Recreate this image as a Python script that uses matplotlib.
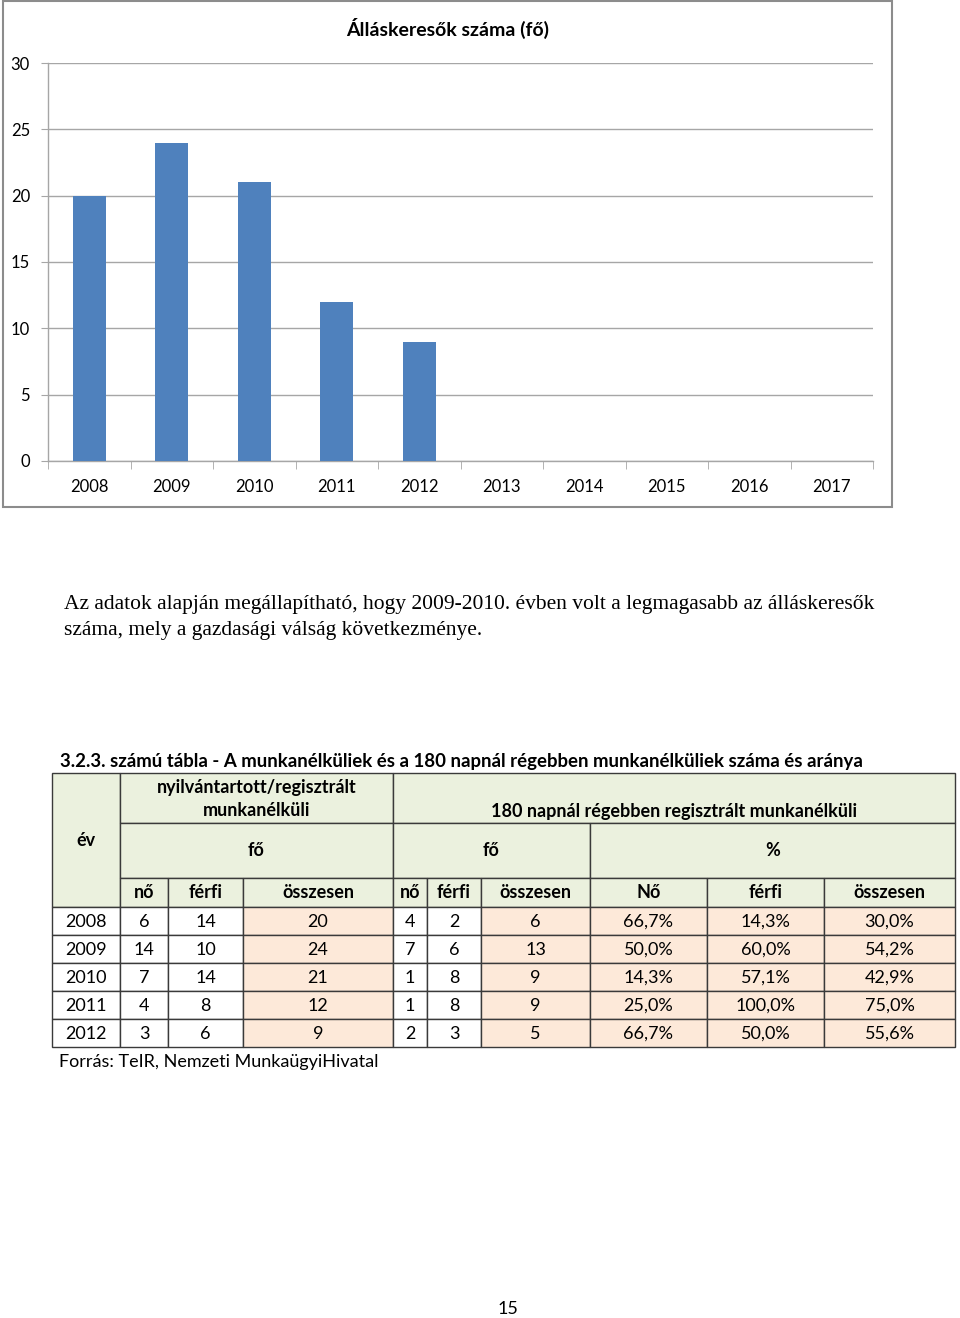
import matplotlib
matplotlib.use("Agg")
import matplotlib.pyplot as plt
from matplotlib.patches import Rectangle

# ---- chart data ----
YEARS = ["2008", "2009", "2010", "2011", "2012", "2013", "2014", "2015", "2016", "2017"]
JOBSEEKERS = [20, 24, 21, 12, 9]

# ---- table data ----
T_YEARS = ["2008", "2009", "2010", "2011", "2012"]
NO = [6, 14, 7, 4, 3]
FERFI = [14, 10, 14, 8, 6]
OSSZ = [20, 24, 21, 12, 9]
NO180 = [4, 7, 1, 1, 2]
FERFI180 = [2, 6, 8, 8, 3]
OSSZ180 = [6, 13, 9, 9, 5]
PCT_NO = [66.7, 50.0, 14.3, 25.0, 66.7]
PCT_FERFI = [14.3, 60.0, 57.1, 100.0, 50.0]
PCT_OSSZ = [30.0, 54.2, 42.9, 75.0, 55.6]

SANS = ["Lato", "DejaVu Sans"]
SERIF = ["Liberation Serif", "DejaVu Serif"]
BLUE = "#4F81BD"
GRID = "#A6A6A6"
GREEN = "#EBF1DE"
PEACH = "#FDE9D9"
LINE = "#3A3A3A"

W, H = 960, 1318
fig = plt.figure(figsize=(W / 100, H / 100), dpi=100)

# overlay in pixel coordinates for the page elements
page = fig.add_axes([0, 0, 1, 1])
page.set_xlim(0, W)
page.set_ylim(H, 0)
page.axis("off")

# chart frame
page.add_patch(Rectangle((3, 1), 889, 506, fill=False, edgecolor="#8C8C8C", lw=1.5))
page.text(448, 28, "Álláskeresők száma (fő)", ha="center", va="center",
          fontsize=14, fontweight="bold", family=SANS)

# ---- bar chart ----
ax = fig.add_axes([48 / W, 1 - 461 / H, (873 - 48) / W, (461 - 63) / H])
x = list(range(len(JOBSEEKERS)))
ax.bar(x, JOBSEEKERS, width=0.4, color=BLUE, zorder=3)
ax.set_xlim(-0.5, len(YEARS) - 0.5)
ax.set_ylim(0, 30)
ax.set_yticks(range(0, 31, 5))
ax.set_xticks(range(len(YEARS)))
ax.set_xticklabels(YEARS)
ax.set_xticks([i - 0.5 for i in range(len(YEARS) + 1)], minor=True)
ax.tick_params(axis="x", which="major", length=0, pad=13, labelsize=12)
ax.tick_params(axis="x", which="minor", length=6, color=GRID, direction="out")
ax.tick_params(axis="y", length=5, color=GRID, pad=8, labelsize=12)
for lbl in ax.get_xticklabels() + ax.get_yticklabels():
    lbl.set_family(SANS)
ax.grid(axis="y", color=GRID, lw=1, zorder=0)
for s in ["top", "right"]:
    ax.spines[s].set_visible(False)
for s in ["left", "bottom"]:
    ax.spines[s].set_color(GRID)
    ax.spines[s].set_linewidth(1)
ax.set_facecolor("none")

# ---- body text ----
page.text(64, 604, "Az adatok alapján megállapítható, hogy 2009-2010. évben volt a legmagasabb az álláskeresők",
          ha="left", va="center", fontsize=15.5, family=SERIF)
page.text(64, 630, "száma, mely a gazdasági válság következménye.",
          ha="left", va="center", fontsize=15.5, family=SERIF)

page.text(60, 761, "3.2.3. számú tábla - A munkanélküliek és a 180 napnál régebben munkanélküliek száma és aránya",
          ha="left", va="center", fontsize=13.4, fontweight="bold", family=SANS)

# ---- table ----
cols = [52, 120, 168, 243, 393, 427, 481, 590, 707, 824, 955]
r_top, r1, r2, r3 = 773, 823, 878, 907
row_h = 28


def cell(x0, y0, x1, y1, fc):
    page.add_patch(Rectangle((x0, y0), x1 - x0, y1 - y0, facecolor=fc,
                             edgecolor=LINE, lw=1))


fs = 13
# header
cell(cols[0], r_top, cols[1], r3, GREEN)
page.text((cols[0] + cols[1]) / 2, 840, "év", ha="center", va="center",
          fontsize=fs, fontweight="bold", family=SANS)
cell(cols[1], r_top, cols[4], r1, GREEN)
page.text((cols[1] + cols[4]) / 2, 787, "nyilvántartott/regisztrált",
          ha="center", va="center", fontsize=fs, fontweight="bold", family=SANS)
page.text((cols[1] + cols[4]) / 2, 811, "munkanélküli",
          ha="center", va="center", fontsize=fs, fontweight="bold", family=SANS)
cell(cols[4], r_top, cols[10], r1, GREEN)
page.text((cols[4] + cols[10]) / 2, 811, "180 napnál régebben regisztrált munkanélküli",
          ha="center", va="center", fontsize=fs, fontweight="bold", family=SANS)
for a, b, t in [(1, 4, "fő"), (4, 7, "fő"), (7, 10, "%")]:
    cell(cols[a], r1, cols[b], r2, GREEN)
    page.text((cols[a] + cols[b]) / 2, 851, t, ha="center", va="center",
              fontsize=fs, fontweight="bold", family=SANS)
sub = ["nő", "férfi", "összesen", "nő", "férfi", "összesen", "Nő", "férfi", "összesen"]
for i, t in enumerate(sub):
    cell(cols[i + 1], r2, cols[i + 2], r3, GREEN)
    page.text((cols[i + 1] + cols[i + 2]) / 2, 893, t, ha="center", va="center",
              fontsize=fs, fontweight="bold", family=SANS)


def pct(v):
    return f"{v:.1f}%".replace(".", ",")


fills = ["white", "white", "white", PEACH, "white", "white", PEACH, PEACH, PEACH, PEACH]
for r in range(len(T_YEARS)):
    y0 = r3 + r * row_h
    vals = [T_YEARS[r], str(NO[r]), str(FERFI[r]), str(OSSZ[r]), str(NO180[r]),
            str(FERFI180[r]), str(OSSZ180[r]), pct(PCT_NO[r]), pct(PCT_FERFI[r]),
            pct(PCT_OSSZ[r])]
    for c, v in enumerate(vals):
        cell(cols[c], y0, cols[c + 1], y0 + row_h, fills[c])
        page.text((cols[c] + cols[c + 1]) / 2, y0 + row_h / 2 + 1, v,
                  ha="center", va="center", fontsize=fs, family=SANS)

page.text(59, 1062, "Forrás: TeIR, Nemzeti MunkaügyiHivatal", ha="left", va="center",
          fontsize=fs, family=SANS)

page.text(508, 1309, "15", ha="center", va="center", fontsize=13, family=SANS)

fig.savefig("out.png", dpi=100, facecolor="white")
